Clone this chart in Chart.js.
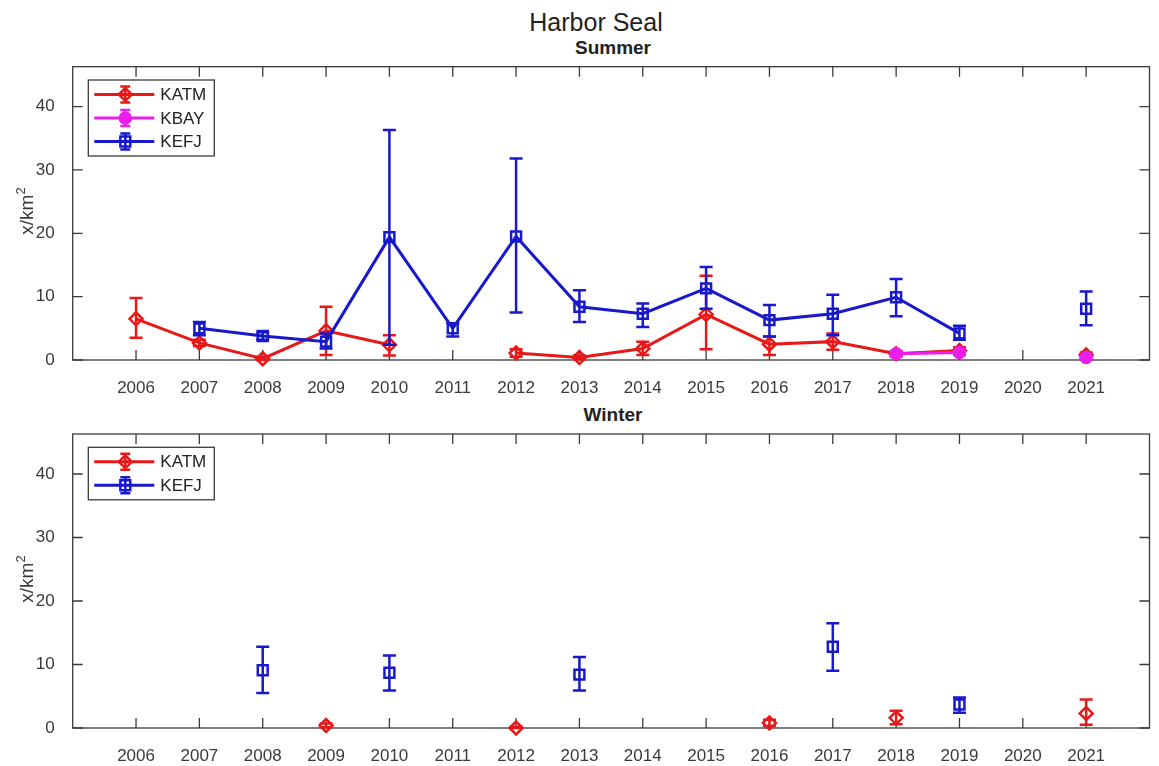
<!DOCTYPE html>
<html>
<head>
<meta charset="utf-8">
<title>Harbor Seal</title>
<script src="https://cdn.jsdelivr.net/npm/chart.js@4/dist/chart.umd.min.js"></script>
<style>
  body { margin: 0; background: #fff; }
  #fig { position: relative; width: 1159px; height: 766px; font-family: "Liberation Sans", Arial, sans-serif; }
  #fig canvas { position: absolute; left: 0; }
  .txt { position: absolute; transform: translate(-50%, -50%); white-space: nowrap; color: #222; }
  #mainTitle { left: 596px; top: 22px; font-size: 25px; }
  .sub { font-size: 19px; font-weight: bold; left: 613px; }
  .ylab { left: 25px; font-size: 19px; color: #3a3a3a; transform: translate(-50%, -50%) rotate(-90deg); z-index: 2; }
  .ylab sup { font-size: 13px; vertical-align: 8px; }
</style>
</head>
<body>
<div id="fig">
  <div class="txt" id="mainTitle">Harbor Seal</div>
  <div class="txt sub" style="top:48px">Summer</div>
  <div class="txt sub" style="top:415px">Winter</div>
  <div class="txt ylab" style="top:211px">x/km<sup>2</sup></div>
  <div class="txt ylab" style="top:579px">x/km<sup>2</sup></div>
  <canvas id="summer" width="1159" height="400" style="top:0"></canvas>
  <canvas id="winter" width="1159" height="366" style="top:400px"></canvas>
</div>
<script>
// years on the x axis
const years = [2006, 2007, 2008, 2009, 2010, 2011, 2012, 2013, 2014, 2015, 2016, 2017, 2018, 2019, 2020, 2021];
const yTicks = [0, 10, 20, 30, 40];

// --- Summer ---
const sumKATM   = [6.5, 2.7, 0.2, 4.6, 2.4, null, 1.1, 0.4, 1.8, 7.2, 2.5, 2.9, 1.0, 1.5, null, 0.8];
const sumKATMlo = [3.5, 2.2, 0.0, 0.8, 0.7, null, 0.5, 0.1, 0.8, 1.7, 0.8, 1.6, 0.6, 1.0, null, 0.4];
const sumKATMhi = [9.8, 3.2, 0.5, 8.4, 3.9, null, 1.7, 0.7, 2.9, 13.3, 3.7, 4.2, 1.4, 2.0, null, 1.2];

const sumKBAY   = [null, null, null, null, null, null, null, null, null, null, null, null, 1.0, 1.2, null, 0.4];
const sumKBAYlo = [null, null, null, null, null, null, null, null, null, null, null, null, 0.6, 0.8, null, 0.1];
const sumKBAYhi = [null, null, null, null, null, null, null, null, null, null, null, null, 1.4, 1.6, null, 0.7];

const sumKEFJ   = [null, 5.0, 3.8, 2.9, 19.4, 5.0, 19.5, 8.4, 7.3, 11.3, 6.3, 7.3, 9.9, 4.2, null, 8.1];
const sumKEFJlo = [null, 3.9, 3.2, 1.8, 2.4, 3.7, 7.5, 6.0, 5.2, 8.1, 3.7, 3.9, 6.9, 3.2, null, 5.5];
const sumKEFJhi = [null, 6.0, 4.4, 4.2, 36.3, 5.8, 31.8, 11.0, 8.9, 14.7, 8.7, 10.3, 12.8, 5.4, null, 10.8];

// --- Winter ---
const winKATM   = [null, null, null, 0.4, null, null, 0.0, null, null, null, 0.8, null, 1.6, null, null, 2.3];
const winKATMlo = [null, null, null, 0.1, null, null, 0.0, null, null, null, 0.3, null, 0.6, null, null, 0.5];
const winKATMhi = [null, null, null, 0.7, null, null, 0.2, null, null, null, 1.3, null, 2.7, null, null, 4.5];

const winKEFJ   = [null, null, 9.1, null, 8.7, null, null, 8.4, null, null, null, 12.8, null, 3.7, null, null];
const winKEFJlo = [null, null, 5.5, null, 5.9, null, null, 5.9, null, null, null, 9.0, null, 2.4, null, null];
const winKEFJhi = [null, null, 12.8, null, 11.4, null, null, 11.2, null, null, null, 16.5, null, 4.8, null, null];

const RED = "#e81818", MAG = "#ec1eec", BLUE = "#1818cc";
const FONT = "'Liberation Sans', Arial, sans-serif";
const AXIS = "#3a3a3a";

function series(label, vals, lo, hi, color, style, radius, order) {
  return {
    label,
    data: years.map((yr, i) => ({ x: yr, y: vals[i] })),
    errLo: lo, errHi: hi,
    borderColor: color,
    backgroundColor: style === "circle" ? color : "rgba(255,255,255,0)",
    borderWidth: 3,
    pointStyle: style,
    pointRadius: radius,
    pointBorderWidth: 2.5,
    pointBorderColor: color,
    spanGaps: false,
    clip: false,
    order
  };
}

// error bars, drawn right after each dataset so later series sit on top
const errorBars = {
  id: "errorBars",
  afterDatasetDraw(chart, args) {
    const ds = chart.data.datasets[args.index];
    if (!ds.errLo) return;
    const xs = chart.scales.x, ys = chart.scales.y, ctx = chart.ctx;
    ctx.save();
    ctx.strokeStyle = ds.borderColor;
    ctx.lineWidth = 2.5;
    years.forEach((yr, i) => {
      if (ds.errLo[i] == null) return;
      const x = xs.getPixelForValue(yr);
      const y1 = ys.getPixelForValue(ds.errLo[i]);
      const y2 = ys.getPixelForValue(ds.errHi[i]);
      ctx.beginPath();
      ctx.moveTo(x, y1); ctx.lineTo(x, y2);
      ctx.moveTo(x - 6.5, y1); ctx.lineTo(x + 6.5, y1);
      ctx.moveTo(x - 6.5, y2); ctx.lineTo(x + 6.5, y2);
      ctx.stroke();
    });
    ctx.restore();
  }
};

// matlab style box with inward ticks on all four sides
const axesBox = {
  id: "axesBox",
  beforeDatasetsDraw(chart) {
    const { ctx, chartArea: a } = chart;
    const xs = chart.scales.x, ys = chart.scales.y;
    ctx.save();
    ctx.strokeStyle = AXIS;
    ctx.lineWidth = 1.3;
    ctx.strokeRect(a.left, a.top, a.right - a.left, a.bottom - a.top);
    ctx.beginPath();
    xs.ticks.forEach(t => {
      const x = xs.getPixelForValue(t.value);
      ctx.moveTo(x, a.bottom); ctx.lineTo(x, a.bottom - 10);
      ctx.moveTo(x, a.top); ctx.lineTo(x, a.top + 10);
    });
    ys.ticks.forEach(t => {
      const y = ys.getPixelForValue(t.value);
      ctx.moveTo(a.left, y); ctx.lineTo(a.left + 10, y);
      ctx.moveTo(a.right, y); ctx.lineTo(a.right - 10, y);
    });
    ctx.stroke();
    ctx.restore();
  }
};

// legend with line, marker and error bar glyph
const boxLegend = {
  id: "boxLegend",
  afterDraw(chart) {
    const { ctx, chartArea: a } = chart;
    const sets = chart.data.datasets;
    const bx = a.left + 15.6, by = a.top + 13.3;
    const w = 126, h = 29 + 23.5 * (sets.length - 1);
    ctx.save();
    ctx.fillStyle = "#fff";
    ctx.fillRect(bx, by, w, h);
    ctx.strokeStyle = AXIS;
    ctx.lineWidth = 1.3;
    ctx.strokeRect(bx, by, w, h);
    sets.forEach((ds, i) => {
      const y = by + 14.5 + 23.5 * i;
      const mx = bx + 37;
      ctx.strokeStyle = ds.borderColor;
      ctx.lineWidth = 3;
      ctx.beginPath();
      ctx.moveTo(bx + 6, y); ctx.lineTo(bx + 66, y);
      ctx.stroke();
      ctx.lineWidth = 2.5;
      ctx.beginPath();
      ctx.moveTo(mx, y - 8); ctx.lineTo(mx, y + 8);
      ctx.moveTo(mx - 5, y - 8); ctx.lineTo(mx + 5, y - 8);
      ctx.moveTo(mx - 5, y + 8); ctx.lineTo(mx + 5, y + 8);
      ctx.stroke();
      ctx.fillStyle = ds.backgroundColor;
      Chart.helpers.drawPoint(ctx, {
        pointStyle: ds.pointStyle, radius: ds.pointRadius, borderWidth: 2.5, rotation: 0
      }, mx, y);
      ctx.fillStyle = "#222";
      ctx.font = "17px " + FONT;
      ctx.textBaseline = "middle";
      ctx.textAlign = "left";
      ctx.fillText(ds.label, bx + 72, y + 1);
    });
    ctx.restore();
  }
};

function makeChart(id, datasets, padTop, xHeight) {
  return new Chart(document.getElementById(id), {
    type: "line",
    data: { datasets },
    options: {
      responsive: false,
      animation: false,
      events: [],
      layout: { padding: { left: 0, right: 5, top: padTop, bottom: 0 } },
      plugins: { legend: { display: false }, tooltip: { enabled: false }, title: { display: false } },
      scales: {
        x: {
          type: "linear",
          min: 2005, max: 2022,
          grid: { display: false },
          border: { display: false },
          afterBuildTicks: s => { s.ticks = years.map(v => ({ value: v })); },
          afterFit: s => { s.height = xHeight; },
          ticks: {
            color: "#3a3a3a", padding: 10,
            font: { family: FONT, size: 17 },
            callback: v => String(v)
          }
        },
        y: {
          min: 0, max: 46.3,
          grid: { display: false },
          border: { display: false },
          afterBuildTicks: s => { s.ticks = yTicks.map(v => ({ value: v })); },
          afterFit: s => { s.width = 72.7; },
          ticks: {
            color: "#3a3a3a", padding: 10,
            font: { family: FONT, size: 17 },
            callback: v => String(v)
          }
        }
      }
    },
    plugins: [axesBox, errorBars, boxLegend]
  });
}

makeChart("summer", [
  series("KATM", sumKATM, sumKATMlo, sumKATMhi, RED, "rectRot", 6.5, 3),
  series("KBAY", sumKBAY, sumKBAYlo, sumKBAYhi, MAG, "circle", 5.5, 2),
  series("KEFJ", sumKEFJ, sumKEFJlo, sumKEFJhi, BLUE, "rect", 7, 1)
], 66.7, 40);

makeChart("winter", [
  series("KATM", winKATM, winKATMlo, winKATMhi, RED, "rectRot", 6.5, 2),
  series("KEFJ", winKEFJ, winKEFJlo, winKEFJhi, BLUE, "rect", 7, 1)
], 34, 38);
</script>
</body>
</html>
